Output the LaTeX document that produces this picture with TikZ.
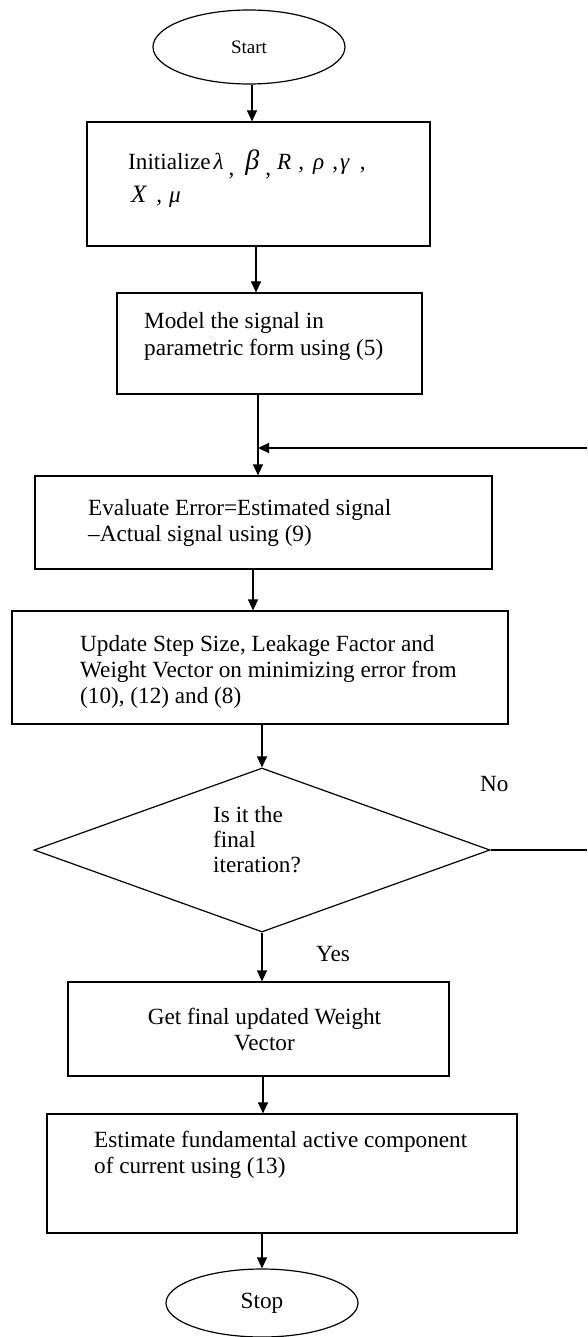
\documentclass[tikz,border=0pt]{standalone}
\usepackage{fontspec}
\setmainfont{Liberation Serif}
\usetikzlibrary{arrows.meta,shapes.geometric}
\newcommand{\bodyfs}{\fontsize{23.2pt}{26pt}\selectfont}
\newcommand{\lowcomma}{\raisebox{-6pt}{,}}
\begin{document}
\begin{tikzpicture}[x=1pt,y=-1pt,
  box/.style={draw, line width=1.2pt, rectangle, inner sep=0pt},
  term/.style={draw, line width=1.2pt, ellipse, inner sep=0pt},
  decision/.style={draw, line width=1.2pt, diamond, inner sep=0pt},
  txt/.style={inner sep=0pt, font=\bodyfs, align=left},
  arr/.style={line width=1.2pt, -{Triangle[length=11pt,width=10pt]}},
  ln/.style={line width=1.2pt}]
\useasboundingbox (0,0) rectangle (587,1337);

% shapes
\node[term, minimum width=192pt, minimum height=74pt] (start) at (249,47) {\fontsize{19pt}{19pt}\selectfont Start};
\node[box, minimum width=343pt, minimum height=124pt] (init) at (258.5,184) {};
\node[box, minimum width=305pt, minimum height=101pt] (model) at (269.5,343.5) {};
\node[box, minimum width=457pt, minimum height=93pt] (eval) at (263.5,522.5) {};
\node[box, minimum width=496pt, minimum height=113pt] (update) at (260,667.5) {};
\node[decision, minimum width=456pt, minimum height=164pt] (dec) at (262,850) {};
\node[box, minimum width=381pt, minimum height=94pt] (get) at (258.5,1029) {};
\node[box, minimum width=470pt, minimum height=119pt] (est) at (282,1173.5) {};
\node[term, minimum width=192pt, minimum height=68pt] (stop) at (262,1303) {\bodyfs Stop};

% texts (base anchor = baseline of the last line)
\node[txt, anchor=base west] (tinit) at (128,203) {Initialize\hspace{3pt}\textit{λ}\hspace{5pt}\lowcomma\hspace{11pt}{\fontsize{28pt}{28pt}\selectfont\textit{β}}\hspace{6pt}\lowcomma\hspace{6pt}\textit{R}\hspace{7pt},\hspace{9pt}\textit{ρ}\hspace{8pt},\hspace{2pt}\textit{γ}\hspace{10pt},\\[7pt]\hspace{3pt}{\fontsize{25pt}{25pt}\selectfont\textit{X}}\hspace{9pt},\hspace{7pt}\textit{μ}};
\node[txt, anchor=base west] (tmodel) at (144,355) {Model the signal in\\[1pt]parametric form using (5)};
\node[txt, anchor=base west] (teval) at (88,541) {Evaluate Error=Estimated signal\\–Actual signal using (9)};
\node[txt, anchor=base west] (tupdate) at (80,703) {Update Step Size, Leakage Factor and\\Weight Vector on minimizing error from\\(10), (12) and (8)};
\node[txt, anchor=base west] (tdec) at (213,872) {Is it the\\[-1pt]final\\[-1pt]iteration?};
\node[txt, anchor=base, align=center] (tget) at (264.5,1050) {Get final updated Weight\\Vector};
\node[txt, anchor=base west] (test) at (94,1173) {Estimate fundamental active component\\of current using (13)};
\node[txt, anchor=base west] (tno) at (480,791) {No};
\node[txt, anchor=base west] (tyes) at (316,961) {Yes};

% feedback helper points
\coordinate (fb) at (258,448);
\coordinate (redge) at (587,448);

% connectors
\draw[arr] ([xshift=3pt]start.south) -- ([xshift=3pt]start.south |- init.north);
\draw[arr] ([xshift=-2.5pt]init.south) -- ([xshift=-2.5pt]init.south |- model.north);
\draw[arr] ([xshift=-11.5pt]model.south) -- ([xshift=-11.5pt]model.south |- eval.north);
\draw[arr] ([xshift=-10.5pt]eval.south) -- ([xshift=-10.5pt]eval.south |- update.north);
\draw[arr] (dec.north |- update.south) -- (dec.north);
\draw[arr] (dec.south) -- (dec.south |- get.north);
\draw[arr] ([xshift=4.5pt]get.south) -- ([xshift=4.5pt]get.south |- est.north);
\draw[arr] (stop.north |- est.south) -- (stop.north);
\draw[ln] (dec.east) -- (dec.east -| redge);
\draw[arr] (redge) -- (fb);
\end{tikzpicture}
\end{document}
